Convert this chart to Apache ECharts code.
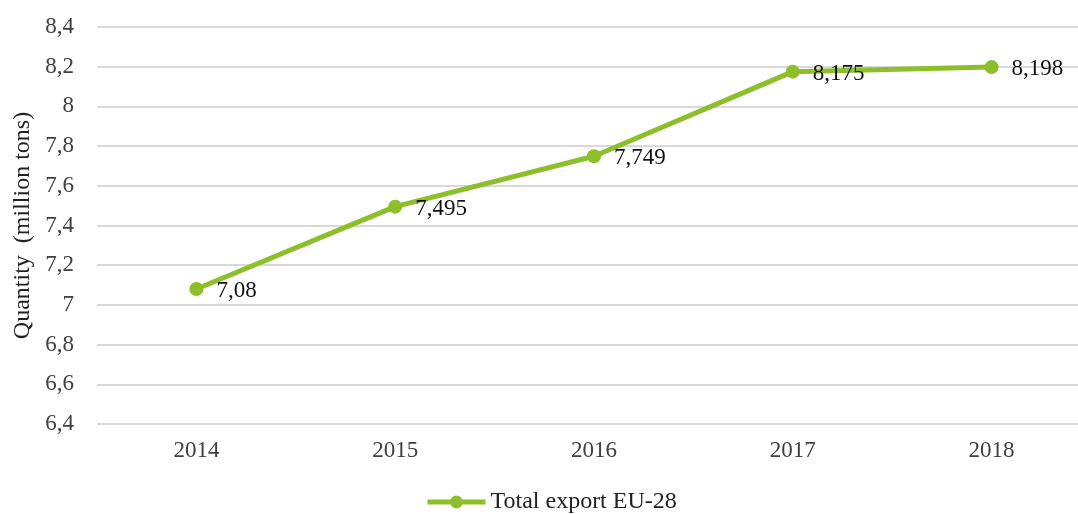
<!DOCTYPE html>
<html><head><meta charset="utf-8">
<script src="https://cdn.jsdelivr.net/npm/echarts@6/dist/echarts.min.js"></script>
<style>html,body{margin:0;padding:0;background:#fff}#c{width:1078px;height:514px}</style>
</head><body><div id="c"></div>
<script>
const categories = ['2014','2015','2016','2017','2018'];
const exportValues = [7.08, 7.495, 7.749, 8.175, 8.198];
const seriesName = 'Total export EU-28';
const yTitle = 'Quantity  (million tons)';
const fmt = v => String(v).replace('.', ',');
const font = '"Liberation Serif","Times New Roman",serif';
const green = '#8dbf2a';
const chart = echarts.init(document.getElementById('c'));
chart.setOption({
  animation: false,
  textStyle: {fontFamily: font},
  grid: {left: 97, width: 994, top: 27, bottom: 90, outerBoundsMode: 'none', containLabel: false},
  legend: {
    bottom: 0, left: 425, padding: 0,
    itemWidth: 58, itemHeight: 16, itemGap: 6,
    lineStyle: {width: 5},
    textStyle: {fontFamily: font, fontSize: 24, color: '#222'},
    data: [seriesName]
  },
  xAxis: {
    type: 'category', data: categories, boundaryGap: true,
    axisLine: {show: false}, axisTick: {show: false},
    axisLabel: {fontFamily: font, fontSize: 23, color: '#404040', margin: 15}
  },
  yAxis: {
    type: 'value', min: 6.4, max: 8.4, interval: 0.2,
    name: yTitle, nameLocation: 'middle', nameGap: 62,
    nameTextStyle: {fontFamily: font, fontSize: 24, color: '#222'},
    axisLine: {show: false}, axisTick: {show: false},
    axisLabel: {fontFamily: font, fontSize: 23, color: '#404040', margin: 23,
      formatter: v => fmt(Math.round(v*10)/10)},
    splitLine: {lineStyle: {color: '#d9d9d9', width: 2}}
  },
  series: [{
    name: seriesName, type: 'line', data: exportValues,
    lineStyle: {color: green, width: 5},
    itemStyle: {color: green},
    symbol: 'circle', symbolSize: 14,
    label: {show: true, position: 'right', distance: 13, offset: [0, 2],
      fontFamily: font, fontSize: 23, color: '#111',
      formatter: p => fmt(p.value)}
  }]
});
</script></body></html>
